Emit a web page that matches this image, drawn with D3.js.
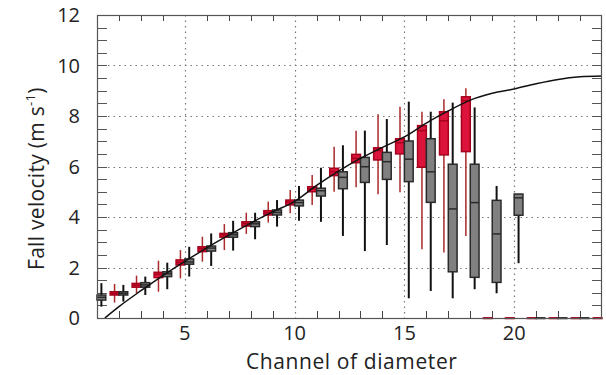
<!DOCTYPE html>
<html>
<head>
<meta charset="utf-8">
<script src="https://cdn.jsdelivr.net/npm/d3@7"></script>
<style>
  body { margin: 0; background: #fff; }
  text { font-family: "Open Sans", "Noto Sans", sans-serif; fill: #222; }
</style>
</head>
<body>
<div id="chart"></div>
<script>
// channels with a red (left) box and a grey (right) box
const redChannels = [2, 3, 4, 5, 6, 7, 8, 9, 10, 11, 12, 13, 14, 15, 16, 17, 18, 19, 20, 21, 22, 23, 24];
const redLow  = [0.61, 0.98, 1.04, 1.57, 2.23, 2.69, 3.33, 3.78, 4.15, 4.48, 5.00, 5.18, 4.90, 4.98, 2.72, 2.59, 3.25, 0, 0, 0, 0, 0, 0];
const redQ1   = [0.91, 1.22, 1.60, 2.10, 2.63, 3.20, 3.64, 4.08, 4.48, 5.00, 5.64, 6.15, 6.26, 6.50, 5.97, 6.46, 6.59, 0, 0, 0, 0, 0, 0];
const redMed  = [0.98, 1.30, 1.73, 2.20, 2.75, 3.29, 3.74, 4.17, 4.59, 5.11, 5.80, 6.32, 6.63, 6.94, 7.42, 7.81, 8.61, 0, 0, 0, 0, 0, 0];
const redQ3   = [1.04, 1.37, 1.81, 2.30, 2.82, 3.35, 3.81, 4.25, 4.67, 5.20, 5.93, 6.48, 6.74, 7.10, 7.62, 8.17, 8.76, 0, 0, 0, 0, 0, 0];
const redHigh = [1.35, 1.68, 2.27, 2.69, 3.22, 3.72, 4.17, 4.61, 5.07, 5.66, 6.78, 7.42, 8.07, 8.37, 8.17, 8.66, 9.10, 0, 0, 0, 0, 0, 0];

const greyChannels = [1, 2, 3, 4, 5, 6, 7, 8, 9, 10, 11, 12, 13, 14, 15, 16, 17, 18, 19, 20, 21, 22, 23];
const greyLow  = [0.45, 0.65, 0.91, 1.14, 1.64, 2.06, 2.67, 3.12, 3.62, 3.85, 3.81, 3.25, 2.65, 2.89, 0.78, 1.07, 0.78, 1.14, 0.98, 2.17, 0, 0, 0];
const greyQ1   = [0.71, 0.91, 1.22, 1.64, 2.13, 2.65, 3.20, 3.62, 4.08, 4.44, 4.83, 5.12, 5.37, 5.49, 5.40, 4.58, 1.83, 1.61, 1.41, 4.07, 0, 0, 0];
const greyMed  = [0.82, 0.98, 1.31, 1.75, 2.22, 2.77, 3.30, 3.73, 4.18, 4.57, 5.04, 5.57, 5.99, 6.19, 6.29, 5.79, 4.32, 4.57, 3.33, 4.76, 0, 0, 0];
const greyQ3   = [0.91, 1.04, 1.40, 1.83, 2.34, 2.85, 3.38, 3.81, 4.28, 4.67, 5.14, 5.79, 6.36, 6.56, 7.01, 7.10, 6.09, 6.09, 4.66, 4.91, 0, 0, 0];
const greyHigh = [1.38, 1.31, 1.64, 2.19, 2.82, 3.35, 3.85, 4.17, 4.67, 5.23, 5.95, 6.84, 7.42, 7.88, 8.57, 8.17, 8.53, 8.34, 5.23, 4.91, 0, 0, 0];

// reference fall velocity curve
const curveChannel = [1.36, 2, 3, 4, 5, 6, 7, 8, 9, 10, 11, 12, 13, 14, 15, 16, 17, 18, 19, 20, 21, 22, 23, 24];
const curveVelocity = [0, 0.45, 1.08, 1.68, 2.24, 2.78, 3.28, 3.76, 4.20, 4.62, 5.25, 5.82, 6.32, 6.76, 7.17, 7.72, 8.20, 8.63, 8.90, 9.07, 9.28, 9.45, 9.55, 9.58];

const xTicks = [5, 10, 15, 20];
const yTicks = [0, 2, 4, 6, 8, 10, 12];

const margin = { top: 15, right: 4, bottom: 57, left: 97 },
  width = 606 - margin.left - margin.right,
  height = 375 - margin.top - margin.bottom;

const svg = d3.select('#chart').append('svg')
  .attr('width', 606)
  .attr('height', 375);
const g = svg.append('g')
  .attr('transform', 'translate(' + margin.left + ',' + margin.top + ')');

const x = d3.scaleLinear().domain([1, 24]).range([0, width]);
const y = d3.scaleLinear().domain([0, 12]).range([height, 0]);

g.append('clipPath').attr('id', 'clip')
  .append('rect').attr('width', width).attr('height', height);

// dotted grid
g.selectAll('.hgrid').data([2, 4, 6, 8, 10]).enter().append('line')
  .attr('x1', 0).attr('x2', width)
  .attr('y1', d => Math.round(y(d)) + 0.5).attr('y2', d => Math.round(y(d)) + 0.5)
  .attr('stroke', '#777').attr('stroke-width', 1.2).attr('stroke-dasharray', '1.5,4');
g.selectAll('.vgrid').data(xTicks).enter().append('line')
  .attr('y1', 0).attr('y2', height)
  .attr('x1', d => Math.round(x(d)) + 0.5).attr('x2', d => Math.round(x(d)) + 0.5)
  .attr('stroke', '#777').attr('stroke-width', 1.2).attr('stroke-dasharray', '1.5,4');

// minor ticks, inward
const intTicks = d3.range(2, 24).filter(d => d % 5 !== 0);
[0, height].forEach(yy => {
  g.selectAll(null).data(intTicks).enter().append('line')
    .attr('x1', d => Math.round(x(d)) + 0.5).attr('x2', d => Math.round(x(d)) + 0.5)
    .attr('y1', yy).attr('y2', yy === 0 ? 6 : height - 7)
    .attr('stroke', '#444').attr('stroke-width', 1);
});
const halfTicks = d3.range(1, 24).map(d => d / 2);
[0, width].forEach(xx => {
  g.selectAll(null).data(halfTicks).enter().append('line')
    .attr('y1', d => Math.round(y(d)) + 0.5).attr('y2', d => Math.round(y(d)) + 0.5)
    .attr('x1', xx).attr('x2', xx === 0 ? 10 : width - 10)
    .attr('stroke', '#555').attr('stroke-width', 1);
});

const bw = x(1.4) - x(1);

function boxes(chs, lo, q1, med, q3, hi, off, fill, edge, whisk, wwidth) {
  const data = chs.map((c, i) => ({ c: c, lo: lo[i], q1: q1[i], med: med[i], q3: q3[i], hi: hi[i] }));
  const gg = g.append('g');
  gg.selectAll('.wh').data(data).enter().append('line')
    .attr('x1', d => x(d.c + off) + bw / 2).attr('x2', d => x(d.c + off) + bw / 2)
    .attr('y1', d => y(d.hi)).attr('y2', d => y(d.lo))
    .attr('stroke', whisk).attr('stroke-width', wwidth);
  gg.selectAll('.bx').data(data).enter().append('rect')
    .attr('x', d => x(d.c + off))
    .attr('width', bw)
    .attr('y', d => y(d.q3))
    .attr('height', d => Math.max(y(d.q1) - y(d.q3), 0.5))
    .attr('fill', fill).attr('stroke', edge).attr('stroke-width', 1.5);
  gg.selectAll('.md').data(data).enter().append('line')
    .attr('x1', d => x(d.c + off)).attr('x2', d => x(d.c + off) + bw)
    .attr('y1', d => y(d.med)).attr('y2', d => y(d.med))
    .attr('stroke', edge).attr('stroke-width', 1.5);
}

boxes(redChannels, redLow, redQ1, redMed, redQ3, redHigh, -0.4, '#dc143c', '#a5001c', '#a82a2a', 1.5);
boxes(greyChannels, greyLow, greyQ1, greyMed, greyQ3, greyHigh, 0, '#808080', '#2a2a2a', '#111', 2);

// fall velocity curve
const line = d3.line()
  .x(d => x(d[0]))
  .y(d => y(d[1]))
  .curve(d3.curveMonotoneX);
g.append('path')
  .attr('clip-path', 'url(#clip)')
  .attr('d', line(curveChannel.map((c, i) => [c, curveVelocity[i]])))
  .attr('fill', 'none')
  .attr('stroke', '#111')
  .attr('stroke-width', 1.5);

// frame
g.append('rect')
  .attr('x', 0.5).attr('y', 0.5)
  .attr('width', width - 1).attr('height', height)
  .attr('fill', 'none').attr('stroke', '#555').attr('stroke-width', 1.2);

// tick labels
g.selectAll('.xl').data(xTicks).enter().append('text')
  .attr('x', d => x(d)).attr('y', height + 22)
  .attr('text-anchor', 'middle')
  .style('font-size', '20px')
  .text(d => d);
g.selectAll('.yl').data(yTicks).enter().append('text')
  .attr('x', -17).attr('y', d => y(d) + 7)
  .attr('text-anchor', 'end')
  .style('font-size', '20px')
  .text(d => d);

// axis titles
g.append('text')
  .attr('x', x(12.6)).attr('y', height + 51)
  .attr('text-anchor', 'middle')
  .style('font-size', '21px')
  .style('letter-spacing', '0.6px')
  .text('Channel of diameter');

const yt = svg.append('text')
  .attr('transform', 'translate(44,270) rotate(-90)')
  .attr('text-anchor', 'start')
  .style('font-size', '21px')
  .style('letter-spacing', '0.3px');
yt.append('tspan').text('Fall velocity (m s');
yt.append('tspan').attr('dy', -9).style('font-size', '13px').text('-1');
yt.append('tspan').attr('dy', 9).text(')');
</script>
</body>
</html>
